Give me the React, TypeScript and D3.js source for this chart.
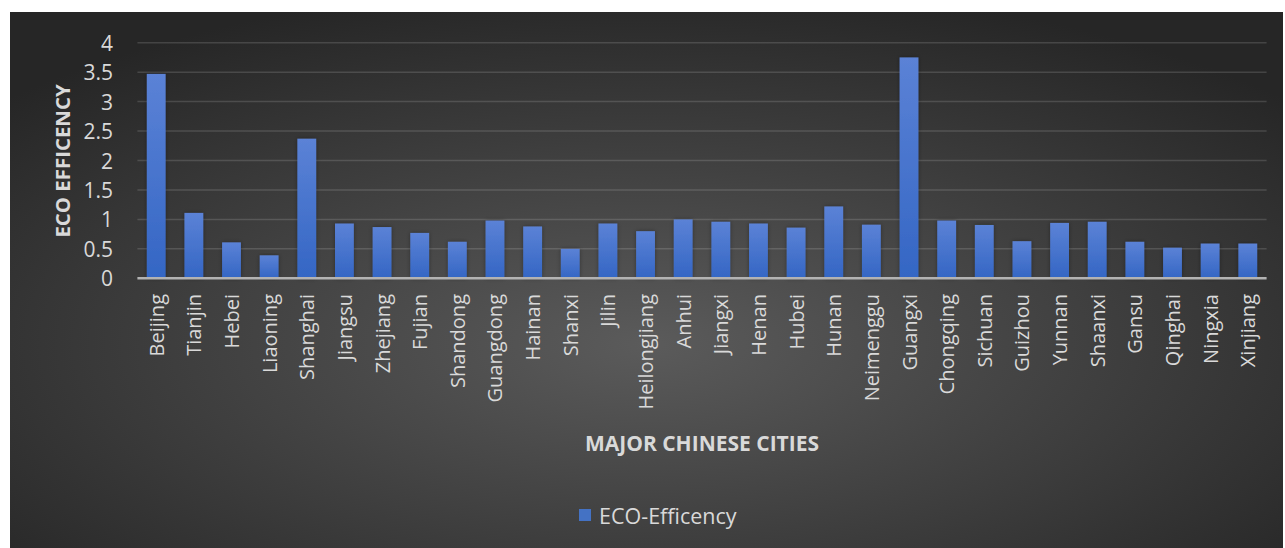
import React from "react";
import * as d3 from "d3";

const cities = [
  "Beijing", "Tianjin", "Hebei", "Liaoning", "Shanghai", "Jiangsu", "Zhejiang", "Fujian",
  "Shandong", "Guangdong", "Hainan", "Shanxi", "Jilin", "Heilongjiang", "Anhui", "Jiangxi",
  "Henan", "Hubei", "Hunan", "Neimenggu", "Guangxi", "Chongqing", "Sichuan", "Guizhou",
  "Yunnan", "Shaanxi", "Gansu", "Qinghai", "Ningxia", "Xinjiang",
];
const ecoEfficiency = [
  3.47, 1.11, 0.61, 0.39, 2.37, 0.93, 0.87, 0.77,
  0.62, 0.98, 0.88, 0.5, 0.93, 0.8, 1.0, 0.96,
  0.93, 0.86, 1.22, 0.91, 3.75, 0.98, 0.905, 0.63,
  0.94, 0.96, 0.62, 0.52, 0.59, 0.59,
];
const yTicks = [0, 0.5, 1, 1.5, 2, 2.5, 3, 3.5, 4];
const seriesName = "ECO-Efficency";
const yTitle = "ECO EFFICENCY";
const xTitle = "MAJOR CHINESE CITIES";

const W = 1285;
const H = 548;
const FONT = "'Open Sans', 'Noto Sans', sans-serif";
const TXT = "#d9d9d9";

export default function App() {
  const x = d3.scaleBand<string>().domain(cities).range([137.4, 1266.6]).paddingInner(0.5).paddingOuter(0.25);
  const y = d3.scaleLinear().domain([0, 4]).range([278.3, 42.7]);

  return (
    <svg width={W} height={H} style={{ position: "absolute", left: 0, top: 0, display: "block" }}>
      <defs>
        <radialGradient id="bg" cx="50%" cy="62%" r="68%">
          <stop offset="0%" stopColor="#5b5b5b" />
          <stop offset="100%" stopColor="#262626" />
        </radialGradient>
        <linearGradient id="bar" x1="0" y1="0" x2="0" y2="1">
          <stop offset="0%" stopColor="#5b82d6" />
          <stop offset="100%" stopColor="#3466c4" />
        </linearGradient>
        <filter id="sh" x="-30%" y="-10%" width="160%" height="120%">
          <feDropShadow dx="0" dy="0" stdDeviation="2" floodColor="#000" floodOpacity="0.35" />
        </filter>
      </defs>
      <rect x={10} y={12} width={W - 12} height={H - 12} fill="url(#bg)" />
      {yTicks.filter((t) => t > 0).map((t) => (
        <line key={t} x1={137.4} x2={1266.6} y1={y(t)} y2={y(t)} stroke="#ffffff" strokeOpacity={0.14} strokeWidth={1.5} />
      ))}
      {cities.map((c, i) => (
        <rect
          key={c}
          x={x(c)}
          y={y(ecoEfficiency[i])}
          width={x.bandwidth()}
          height={y(0) - y(ecoEfficiency[i])}
          fill="url(#bar)"
          filter="url(#sh)"
        />
      ))}
      <line x1={137.4} x2={1266.6} y1={y(0)} y2={y(0)} stroke="#b3b3b3" strokeWidth={2.5} />
      {yTicks.map((t) => (
        <text key={t} x={113} y={y(t)} textAnchor="end" dominantBaseline="central" fontFamily={FONT} fontSize={21} fill={TXT}>
          {d3.format("~g")(t)}
        </text>
      ))}
      {cities.map((c) => (
        <text
          key={c}
          transform={`translate(${(x(c) ?? 0) + x.bandwidth() / 2},294) rotate(-90)`}
          textAnchor="end"
          dominantBaseline="central"
          fontFamily={FONT}
          fontSize={20}
          fill={TXT}
        >
          {c}
        </text>
      ))}
      <text transform="translate(62,161) rotate(-90)" textAnchor="middle" dominantBaseline="central" fontFamily={FONT} fontWeight="bold" fontSize={20.4} fill={TXT}>
        {yTitle}
      </text>
      <text x={702} y={443} textAnchor="middle" dominantBaseline="central" fontFamily={FONT} fontWeight="bold" fontSize={21} fill={TXT}>
        {xTitle}
      </text>
      <rect x={579} y={509} width={12} height={12} fill="#4472c4" />
      <text x={599} y={515} dominantBaseline="central" fontFamily={FONT} fontSize={21.5} fill={TXT}>
        {seriesName}
      </text>
    </svg>
  );
}
